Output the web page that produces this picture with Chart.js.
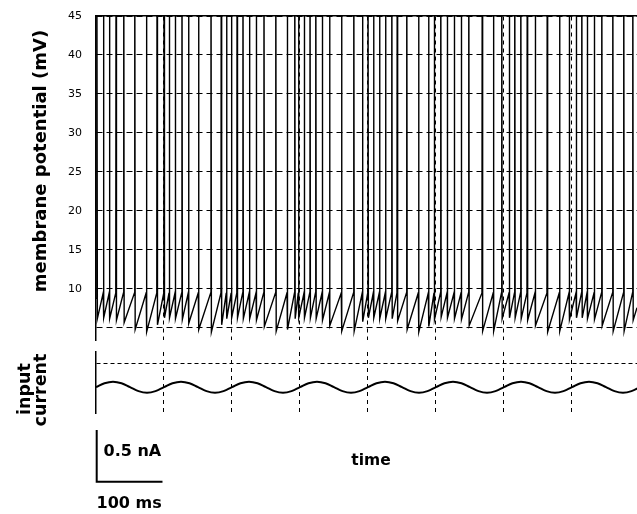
<!DOCTYPE html>
<html>
<head>
<meta charset="utf-8">
<script src="https://cdn.jsdelivr.net/npm/chart.js@4/dist/chart.umd.min.js"></script>
<style>
  html, body { margin: 0; padding: 0; background: #fff; }
  #wrap { position: relative; width: 637px; height: 514px; overflow: hidden; background: #fff; }
  #top { position: absolute; left: 0; top: 0; }
  #bot { position: absolute; left: 0; top: 345px; }
</style>
</head>
<body>
<div id="wrap">
  <canvas id="top" width="637" height="345"></canvas>
  <canvas id="bot" width="637" height="169"></canvas>
</div>
<script>
// ---- data ----
// spike times in ms
const spikeTimes = [1.0, 10.6, 19.4, 29.1, 40.4, 56.6, 73.8, 89.4,
  99.7, 107.4, 116.2, 126.0, 135.7, 150.4, 168.7, 183.8, 191.6,
  198.8, 207.1, 215.7, 225.3, 235.3, 246.6, 264.0, 280.9, 291.9, 297.5,
  305.9, 314.3, 322.8, 332.4, 343.1, 360.7, 378.7, 391.5,
  399.6, 407.8, 416.6, 425.4, 434.6, 442.6, 456.6, 474.0, 488.7,
  497.1, 506.6, 516.2, 526.5, 536.8, 547.8, 567.6, 584.1,
  596.3, 607.4, 615.4, 624.3, 633.8, 645.6, 663.2, 681.3,
  695.6, 705.9, 714.0, 722.1, 732.4, 743.4, 759.6, 775.7, 789.0];
// membrane potential right after each spike (mV)
const resetValues = [6.2, 6.3, 6.2, 6.0, 5.7, 4.8, 4.5, 5.4,
  6.3, 6.3, 6.2, 6.1, 5.6, 4.8, 4.5, 5.4, 6.2,
  6.3, 6.3, 6.2, 6.2, 6.0, 5.2, 4.6, 4.8, 6.2, 6.3,
  6.3, 6.3, 6.2, 6.0, 5.3, 4.6, 4.6, 5.8,
  6.3, 6.3, 6.2, 6.2, 6.2, 5.9, 4.8, 4.5, 5.2,
  6.1, 6.4, 6.3, 6.2, 6.1, 5.3, 4.6, 4.6,
  6.2, 6.3, 6.3, 6.2, 6.0, 5.3, 4.5, 4.6,
  6.1, 6.3, 6.3, 6.2, 6.1, 5.3, 4.6, 4.6, 6.0];
const thresholdValue = 9.5;   // mV, level at which a spike fires
const peakValue = 60;         // mV, spike overshoot (off scale)
const startValue = 8.8;       // mV at t = 0
const endValue = 7.6;         // mV at the right edge
const endTime = 795.6;        // ms, right edge of plot

// input current (nA, relative to mean) sampled every 12.5 ms
const currentTimes = [0,12.5,25,37.5,50,62.5,75,87.5,100,112.5,125,137.5,150,162.5,175,187.5,
  200,212.5,225,237.5,250,262.5,275,287.5,300,312.5,325,337.5,350,362.5,375,387.5,
  400,412.5,425,437.5,450,462.5,475,487.5,500,512.5,525,537.5,550,562.5,575,587.5,
  600,612.5,625,637.5,650,662.5,675,687.5,700,712.5,725,737.5,750,762.5,775,787.5,800];
const currentValues = [0,0.038,0.053,0.038,0,-0.038,-0.053,-0.038,
  0,0.038,0.053,0.038,0,-0.038,-0.053,-0.038,
  0,0.038,0.053,0.038,0,-0.038,-0.053,-0.038,
  0,0.038,0.053,0.038,0,-0.038,-0.053,-0.038,
  0,0.038,0.053,0.038,0,-0.038,-0.053,-0.038,
  0,0.038,0.053,0.038,0,-0.038,-0.053,-0.038,
  0,0.038,0.053,0.038,0,-0.038,-0.053,-0.038,
  0,0.038,0.053,0.038,0,-0.038,-0.053,-0.038,
  0];
const currentThreshold = 0.225;  // nA, dashed reference level

// axis ticks
const mvTicks = [5, 10, 15, 20, 25, 30, 35, 40, 45];
const timeGrid = [100, 200, 300, 400, 500, 600, 700];

// labels
const yTitleTop = 'membrane potential (mV)';
const yTitleBottom = ['input', 'current'];
const scaleCurrentLabel = '0.5 nA';
const scaleTimeLabel = '100 ms';
const xLabel = 'time';
const scaleCurrent = 0.5;  // nA
const scaleTime = 100;     // ms

// ---- build trace ----
const vPoints = [{x: 0, y: startValue}];
spikeTimes.forEach((t, i) => {
  vPoints.push({x: t, y: thresholdValue});
  vPoints.push({x: t + 0.4, y: peakValue});
  vPoints.push({x: t + 1.0, y: resetValues[i]});
});
vPoints.push({x: endTime, y: endValue});

const iPoints = currentTimes.map((t, i) => ({x: t, y: currentValues[i]}));

const FONT = "'DejaVu Sans', sans-serif";

const topTitlePlugin = {
  id: 'topTitle',
  afterDraw(chart) {
    const ctx = chart.ctx;
    ctx.save();
    ctx.fillStyle = '#000';
    ctx.font = 'bold 18px ' + FONT;
    ctx.textAlign = 'center';
    ctx.textBaseline = 'middle';
    ctx.translate(41.5, 161);
    ctx.rotate(-Math.PI / 2);
    ctx.fillText(yTitleTop, 0, 0);
    ctx.restore();
  }
};

const botPlugin = {
  id: 'botLabels',
  afterDraw(chart) {
    const ctx = chart.ctx;
    const xs = chart.scales.x, ys = chart.scales.y;
    ctx.save();
    ctx.fillStyle = '#000';
    ctx.strokeStyle = '#000';
    ctx.font = 'bold 17.5px ' + FONT;
    ctx.textAlign = 'center';
    ctx.textBaseline = 'middle';
    ctx.save(); ctx.translate(25, 44); ctx.rotate(-Math.PI / 2); ctx.fillText(yTitleBottom[0], 0, 0); ctx.restore();
    ctx.save(); ctx.translate(41, 45); ctx.rotate(-Math.PI / 2); ctx.fillText(yTitleBottom[1], 0, 0); ctx.restore();
    const x0 = xs.getPixelForValue(0) + 0.7;
    const x1 = xs.getPixelForValue(scaleTime) - 1.5;
    const barH = Math.abs(ys.getPixelForValue(scaleCurrent) - ys.getPixelForValue(0));
    const yb = 136.7;
    ctx.lineWidth = 2;
    ctx.beginPath();
    ctx.moveTo(x0, yb - barH);
    ctx.lineTo(x0, yb);
    ctx.lineTo(x1, yb);
    ctx.stroke();
    ctx.font = 'bold 16px ' + FONT;
    ctx.textAlign = 'left';
    ctx.fillText(scaleCurrentLabel, 103.5, 107);
    ctx.fillText(scaleTimeLabel, 96.5, 159);
    ctx.textAlign = 'center';
    ctx.font = 'bold 15.5px ' + FONT;
    ctx.fillText(xLabel, 371, 116);
    ctx.restore();
  }
};

new Chart(document.getElementById('top'), {
  type: 'line',
  data: {
    datasets: [{
      data: vPoints,
      borderColor: '#000',
      borderWidth: 1.4,
      pointRadius: 0,
      tension: 0,
      fill: false
    }]
  },
  options: {
    responsive: false,
    animation: false,
    devicePixelRatio: 1,
    layout: { padding: { top: 16, bottom: 5, left: 0, right: 0 } },
    plugins: { legend: { display: false }, tooltip: { enabled: false } },
    scales: {
      x: {
        type: 'linear', position: 'top', min: 0, max: endTime,
        afterFit(s) { s.height = 0; s.paddingLeft = 0; s.paddingRight = 0; },
        afterBuildTicks(s) { s.ticks = timeGrid.map(v => ({value: v})); },
        ticks: { display: false },
        grid: { color: '#000', lineWidth: 1, drawTicks: false },
        border: { display: true, color: '#000', width: 1.5, dash: [4, 4] }
      },
      y: {
        type: 'linear', min: 3.46, max: 45,
        afterFit(s) { s.width = 96; s.paddingTop = 0; s.paddingBottom = 0; },
        afterBuildTicks(s) { s.ticks = mvTicks.map(v => ({value: v})); },
        ticks: {
          color: '#000', padding: 14,
          font: { family: FONT, size: 11 },
          callback: (v) => (v === 5 ? '' : String(v))
        },
        grid: { color: '#000', lineWidth: 1, drawTicks: false },
        border: { display: true, color: '#000', width: 1.5, dash: [6, 4] }
      }
    }
  },
  plugins: [topTitlePlugin]
});

new Chart(document.getElementById('bot'), {
  type: 'line',
  data: {
    datasets: [{
      data: iPoints,
      borderColor: '#000',
      borderWidth: 2,
      pointRadius: 0,
      tension: 0.4,
      fill: false
    }]
  },
  options: {
    responsive: false,
    animation: false,
    devicePixelRatio: 1,
    layout: { padding: { top: 7, bottom: 101, left: 0, right: 0 } },
    plugins: { legend: { display: false }, tooltip: { enabled: false } },
    scales: {
      x: {
        type: 'linear', position: 'bottom', min: 0, max: endTime,
        afterFit(s) { s.height = 0; s.paddingLeft = 0; s.paddingRight = 0; },
        afterBuildTicks(s) { s.ticks = timeGrid.map(v => ({value: v})); },
        ticks: { display: false },
        grid: { color: '#000', lineWidth: 1, drawTicks: false },
        border: { display: false, dash: [4, 4] }
      },
      y: {
        type: 'linear', min: -0.25, max: 0.34,
        afterFit(s) { s.width = 96; s.paddingTop = 0; s.paddingBottom = 0; },
        afterBuildTicks(s) { s.ticks = [{value: currentThreshold}]; },
        ticks: { display: false },
        grid: { color: '#000', lineWidth: 1, drawTicks: false },
        border: { display: true, color: '#000', width: 1.5, dash: [4, 3] }
      }
    }
  },
  plugins: [botPlugin]
});
</script>
</body>
</html>
